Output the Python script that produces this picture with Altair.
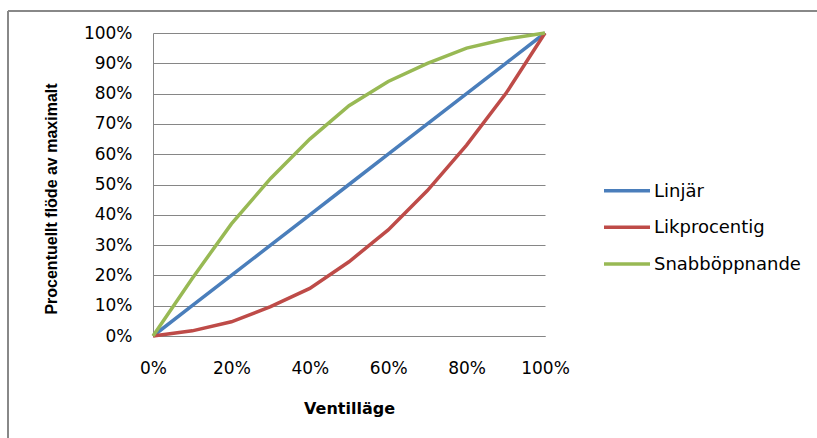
import altair as alt
import pandas as pd

# ---- data ----
positions = [0, 10, 20, 30, 40, 50, 60, 70, 80, 90, 100]          # Ventilläge (%)
linjar = [0, 10, 20, 30, 40, 50, 60, 70, 80, 90, 100]
likprocentig = [0, 1.7, 4.7, 9.7, 15.7, 24.5, 35, 48, 63, 80, 100]
snabboppnande = [0, 19, 37, 52, 65, 76, 84, 90, 95, 98, 100]
series = ["Linjär", "Likprocentig", "Snabböppnande"]
colors = ["#4A7EBB", "#BE4B48", "#98B954"]
x_ticks = [0, 20, 40, 60, 80, 100]
y_ticks = [0, 10, 20, 30, 40, 50, 60, 70, 80, 90, 100]

rows = []
for name, vals in zip(series, [linjar, likprocentig, snabboppnande]):
    for p, v in zip(positions, vals):
        rows.append({"series": name, "pos": p / 100, "flow": v / 100})
df = pd.DataFrame(rows)
legend_df = pd.DataFrame({"series": series})
border_df = pd.DataFrame({"b": [0]})

W, H = 392, 303
PAD_L, PAD_T = 153, 33
GRID = "#868686"

color_scale = alt.Scale(domain=series, range=colors)

lines = alt.Chart(df).mark_line(strokeWidth=3.5).encode(
    x=alt.X("pos:Q",
            scale=alt.Scale(domain=[0, 1], nice=False),
            axis=alt.Axis(values=[t / 100 for t in x_ticks], format=".0%",
                          grid=False, ticks=False, domainColor=GRID,
                          labelFlush=False, labelOverlap=False,
                          labelPadding=24, labelFont="DejaVu Sans",
                          labelFontSize=17, labelColor="#000000",
                          title="Ventilläge", titleFont="DejaVu Sans",
                          titleFontSize=16, titleFontWeight="bold",
                          titleColor="#000000", titleX=W / 2, titleY=72.5,
                          titleAlign="center", titleBaseline="middle")),
    y=alt.Y("flow:Q",
            scale=alt.Scale(domain=[0, 1], nice=False),
            axis=alt.Axis(values=[t / 100 for t in y_ticks], format=".0%",
                          grid=True, gridColor=GRID, gridWidth=1,
                          ticks=False, domainColor=GRID,
                          labelFlush=False, labelOverlap=False,
                          labelPadding=21, labelFont="DejaVu Sans",
                          labelFontSize=17, labelColor="#000000",
                          title="Procentuellt flöde av maximalt",
                          titleFont="Liberation Sans", titleFontSize=16,
                          titleFontWeight="bold", titleColor="#000000",
                          titleAngle=270, titleX=-102, titleY=165.5,
                          titleAlign="center", titleBaseline="middle")),
    color=alt.Color("series:N", scale=color_scale, legend=None),
)

leg_y = alt.Y("series:N",
              scale=alt.Scale(type="point", domain=series,
                              range=[157.7, 231], padding=0),
              axis=None)

leg_rules = alt.Chart(legend_df).mark_rule(strokeWidth=3.5).encode(
    x=alt.value(451), x2=alt.value(497), y=leg_y,
    color=alt.Color("series:N", scale=color_scale, legend=None),
)
leg_text = alt.Chart(legend_df).mark_text(
    align="left", baseline="middle", font="DejaVu Sans", fontSize=18,
    color="#000000", dy=1,
).encode(x=alt.value(501), y=leg_y, text="series:N")

border_top = alt.Chart(border_df).mark_rule(color="#888888", strokeWidth=2).encode(
    x=alt.value(-145), x2=alt.value(817 - PAD_L + 5), y=alt.value(-22))
border_left = alt.Chart(border_df).mark_rule(color="#888888", strokeWidth=2).encode(
    x=alt.value(-145), y=alt.value(-22), y2=alt.value(438 - PAD_T + 5))

chart = alt.layer(lines, leg_rules, leg_text, border_top, border_left).resolve_scale(
    y="independent"
).properties(
    width=W, height=H,
    autosize=alt.AutoSizeParams(type="none"),
    padding={"left": PAD_L, "top": PAD_T, "right": 817 - PAD_L - W,
             "bottom": 438 - PAD_T - H},
    background="#ffffff",
).configure_view(stroke=None)

chart.save("out.html", embed_options={"renderer": "svg", "actions": False})
